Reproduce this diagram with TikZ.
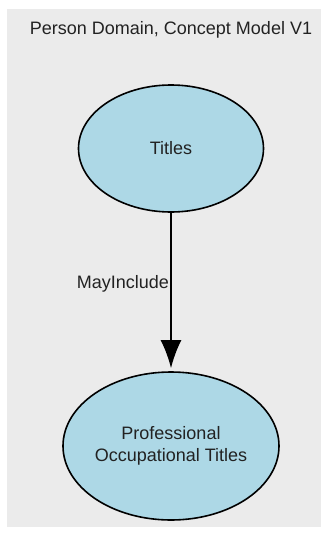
\documentclass[tikz,border=0pt]{standalone}
\usepackage{fontspec}
\setmainfont{Liberation Sans}
\usepackage{xcolor}
\usetikzlibrary{shapes.geometric,arrows.meta}
\definecolor{bggray}{HTML}{EBEBEB}
\definecolor{conceptblue}{HTML}{ADD8E6}
\definecolor{textgray}{HTML}{222222}
\begin{document}
\begin{tikzpicture}
            [
                x=1pt, y=-1pt,
                font=\fontsize{18}{22}\selectfont,
                text=textgray
            ]
            \tikzset{
                concept/.style = {ellipse, draw=black, fill=conceptblue, line width=1.6pt, align=center, inner sep=0pt},
                relation/.style = {line width=2pt, -{Latex[length=28pt,width=21pt]}, shorten >=3pt},
                edgestyleL/.style = {midway,left,draw=none,inner sep=1pt}
            }
            \useasboundingbox (0,0) rectangle (329,535);
            \fill[bggray] (7,9) rectangle (321,527);
            \node (title) at (171,30) {Person Domain, Concept Model V1};
            \node[concept, minimum width=185pt, minimum height=127pt] (T) at (171,148.5) {Titles};
            \node[concept, minimum width=216pt, minimum height=148pt] (P) at (171,446) {Professional\\Occupational Titles};
            \draw[relation] (T) -- (P) node[edgestyleL, pos=0.45] {MayInclude};
        \end{tikzpicture}
\end{document}
